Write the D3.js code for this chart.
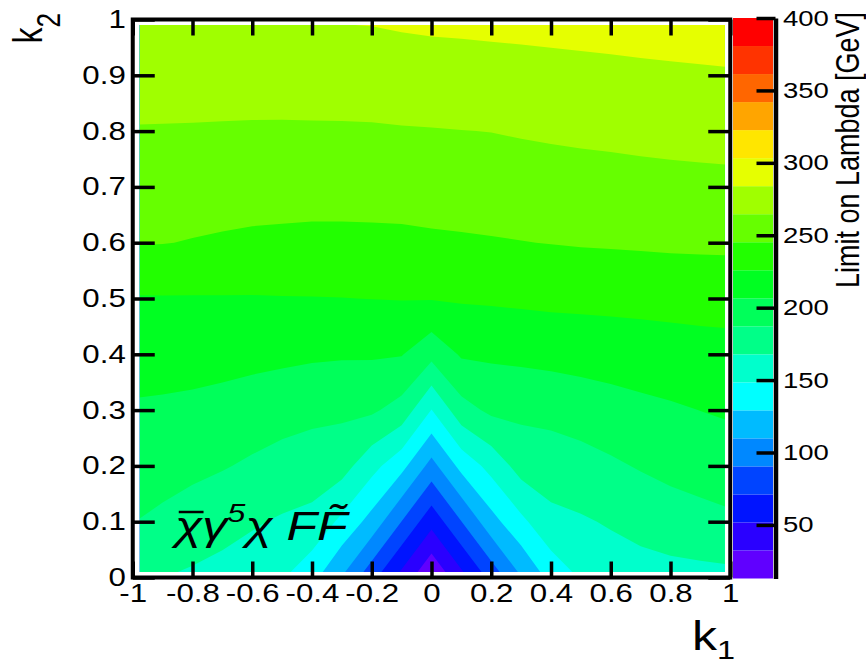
<!DOCTYPE html>
<html>
<head>
<meta charset="utf-8">
<script src="https://cdn.jsdelivr.net/npm/d3@7"></script>
<style>
  body { margin: 0; background: #fff; }
  svg { display: block; }
  text { font-family: "Liberation Sans", Arial, sans-serif; fill: #000; }
</style>
</head>
<body>
<div id="chart-area"></div>
<script>
// grid of the limit histogram: columns are k1, rows are k2
const k1Grid = [-1, -0.9, -0.8, -0.7, -0.6, -0.5, -0.4, -0.3, -0.2, -0.1, 0, 0.1, 0.2, 0.3, 0.4, 0.5, 0.6, 0.7, 0.8, 0.9, 1];
const k2Grid = [0, 0.1, 0.2, 0.3, 0.4, 0.5, 0.6, 0.7, 0.8, 0.9, 1];

// limit on Lambda [GeV], one array per k2 row
const limitK2_00 = [171, 168, 165, 162, 159, 150, 135, 109, 77, 45, 13, 45, 77, 109, 135, 150, 158, 160, 161, 162, 163];
const limitK2_01 = [187.5, 183.4, 178.4, 173.9, 169.5, 165.8, 162.9, 144, 122, 90, 58, 90, 122, 144, 162.9, 165.8, 169.5, 173.9, 178.4, 181.4, 184.1];
const limitK2_02 = [196, 194.3, 191.6, 188.5, 184.3, 179.9, 176.9, 175.4, 155, 135, 103, 135, 155, 175.4, 176.9, 179.9, 184.3, 188.6, 192.2, 194.6, 197];
const limitK2_03 = [204.4, 203.6, 202.4, 200.5, 198, 195.1, 192.4, 190.8, 190, 180, 148, 180, 191, 191.3, 193.1, 196.1, 199.2, 202, 204.3, 206.7, 208.9];
const limitK2_04 = [214.3, 213.9, 213.5, 212.6, 211.4, 210.4, 209.1, 208.4, 208.4, 207.5, 193, 208.6, 209.6, 211, 212.4, 213.6, 214.8, 216.2, 217.4, 218.7, 219.6];
const limitK2_05 = [224.6, 224.7, 224.7, 224.8, 224.8, 225.1, 225.3, 225.6, 226.1, 226.5, 226.8, 227.6, 228.4, 229.3, 230.3, 230.7, 231.1, 231.6, 232.2, 232.8, 233.1];
const limitK2_06 = [246.3, 245.7, 244.4, 243.1, 241.9, 241.3, 240.8, 240.8, 241.2, 241.5, 242.3, 243.1, 243.9, 244.8, 245.6, 246.5, 247, 247.6, 248.2, 248.5, 248.8];
const limitK2_07 = [254.9, 254.5, 254.1, 253.6, 253.1, 252.8, 252.4, 252.4, 252.3, 252.5, 253.6, 254.1, 254.6, 255.4, 256.3, 257.1, 257.8, 258.6, 259.3, 259.8, 260.2];
const limitK2_08 = [263.6, 263.4, 263.2, 262.9, 262.7, 262.5, 262.5, 262.6, 262.8, 263.4, 263.8, 264.3, 264.8, 266, 267, 267.9, 268.6, 269.4, 270.1, 270.7, 271.3];
const limitK2_09 = [271.9, 272.1, 272.1, 272.2, 272.1, 272.6, 273.2, 273.5, 273.9, 274.8, 275.7, 276.3, 276.9, 277.6, 278.3, 278.9, 279.5, 280.2, 280.8, 281.4, 282];
const limitK2_10 = [280.1, 280.7, 281.1, 281.4, 281.3, 282.7, 284.2, 284.8, 285.3, 286.6, 287.5, 287.9, 288.5, 289, 289.6, 290.4, 291.2, 292.1, 293.1, 294.1, 295.2];
const limitRows = [limitK2_00, limitK2_01, limitK2_02, limitK2_03, limitK2_04, limitK2_05,
  limitK2_06, limitK2_07, limitK2_08, limitK2_09, limitK2_10];

// colour palette, from lowest contour to highest
const paletteColors = ["#6000ff", "#2a00ff", "#0014ff", "#0044ff", "#0088ff", "#00bbff", "#00ffff",
  "#00ffcc", "#00ff88", "#00ff5a", "#00ff22", "#22ff00", "#66ff00", "#a0ff00", "#e6ff00",
  "#ffe600", "#ffa500", "#ff6600", "#ff3300", "#ff0000"];
const zMin = 13;
const zMax = 400;

const xTicks = [-1, -0.8, -0.6, -0.4, -0.2, 0, 0.2, 0.4, 0.6, 0.8, 1];
const yTicks = [0, 0.1, 0.2, 0.3, 0.4, 0.5, 0.6, 0.7, 0.8, 0.9, 1];
const zTicks = [50, 100, 150, 200, 250, 300, 350, 400];

const chartSize = { width: 866, height: 661 };
const stretch = 1.25; // text in the picture is wider than it is tall

const x = d3.scaleLinear().domain([-1, 1]).range([132.75, 730.25]);
const y = d3.scaleLinear().domain([0, 1]).range([577.5, 19.5]);
const z = d3.scaleLinear().domain([zMin, zMax]).range([578.5, 18]);

const levels = d3.range(paletteColors.length).map(i => zMin + i * (zMax - zMin) / paletteColors.length);

const svg = d3.select("#chart-area").append("svg")
  .attr("width", chartSize.width)
  .attr("height", chartSize.height);

svg.append("rect").attr("width", chartSize.width).attr("height", chartSize.height).attr("fill", "#fff");

// filled contours
const nx = k1Grid.length, ny = k2Grid.length;
const values = [];
limitRows.forEach(row => row.forEach(v => values.push(v)));

const gx = d3.scaleLinear().domain([0.5, nx - 0.5]).range([x(k1Grid[0]), x(k1Grid[nx - 1])]);
const gy = d3.scaleLinear().domain([0.5, ny - 0.5]).range([y(k2Grid[0]), y(k2Grid[ny - 1])]);
const gridPath = d3.geoPath(d3.geoTransform({
  point: function(px, py) { this.stream.point(gx(px), gy(py)); }
}));

svg.append("clipPath").attr("id", "fill-clip")
  .append("rect")
  .attr("x", x(-0.976)).attr("y", y(0.99))
  .attr("width", x(0.982) - x(-0.976))
  .attr("height", y(0.0099) - y(0.99));

const contours = d3.contours().size([nx, ny]).thresholds(levels)(values);

svg.append("g")
  .attr("class", "contours")
  .attr("clip-path", "url(#fill-clip)")
  .selectAll("path")
  .data(contours)
  .join("path")
  .attr("d", gridPath)
  .attr("fill", (d, i) => paletteColors[i]);

// axes, ticks pointing inwards
const styleAxis = (g, size) => {
  g.attr("font-size", size).attr("font-family", null);
  g.select(".domain").remove();
  g.selectAll("line").attr("stroke", "#000").attr("stroke-width", 3.5);
  g.selectAll("text").attr("transform", `scale(${stretch},1)`);
};

const fmt = d => String(d);

svg.append("g")
  .attr("transform", `translate(0,${y(0)})`)
  .call(d3.axisBottom(x).tickValues(xTicks).tickSizeInner(-16).tickSizeOuter(0).tickPadding(7).tickFormat(fmt))
  .call(g => styleAxis(g, 25));

svg.append("g")
  .attr("transform", `translate(0,${y(1)})`)
  .call(d3.axisTop(x).tickValues(xTicks).tickSizeInner(-16).tickSizeOuter(0).tickFormat(""))
  .call(g => styleAxis(g, 25));

svg.append("g")
  .attr("transform", `translate(${x(-1)},0)`)
  .call(d3.axisLeft(y).tickValues(yTicks).tickSizeInner(-22).tickSizeOuter(0).tickPadding(5.6).tickFormat(fmt))
  .call(g => styleAxis(g, 25));

svg.append("g")
  .attr("transform", `translate(${x(1)},0)`)
  .call(d3.axisRight(y).tickValues(yTicks).tickSizeInner(-22).tickSizeOuter(0).tickFormat(""))
  .call(g => styleAxis(g, 25));

// frame
svg.append("rect")
  .attr("x", x(-1)).attr("y", y(1))
  .attr("width", x(1) - x(-1)).attr("height", y(0) - y(1))
  .attr("fill", "none").attr("stroke", "#000").attr("stroke-width", 4);

// palette
const paletteLeft = 733, paletteRight = 773;
svg.append("g")
  .selectAll("rect")
  .data(paletteColors)
  .join("rect")
  .attr("x", paletteLeft)
  .attr("width", paletteRight - paletteLeft)
  .attr("y", (d, i) => z(levels[i + 1] || zMax))
  .attr("height", (d, i) => z(levels[i]) - z(levels[i + 1] || zMax))
  .attr("fill", d => d);

const zAxis = svg.append("g")
  .attr("transform", `translate(${paletteRight + 2.5},0)`)
  .call(d3.axisRight(z).tickValues(zTicks).tickSizeInner(-19).tickSizeOuter(0).tickPadding(6).tickFormat(fmt));
zAxis.attr("font-size", 22).attr("font-family", null);
zAxis.select(".domain").attr("stroke", "#000").attr("stroke-width", 4.5);
zAxis.selectAll("line").attr("stroke", "#000").attr("stroke-width", 3.5);
zAxis.selectAll("text").attr("transform", `scale(${stretch},1)`);

// axis titles
const xTitle = svg.append("text")
  .attr("transform", `translate(735,650) scale(${stretch},1)`)
  .attr("text-anchor", "end")
  .attr("font-size", 40);
xTitle.append("tspan").text("k");
xTitle.append("tspan").attr("font-size", 26).attr("dy", 9).text("1");

const yTitle = svg.append("text")
  .attr("transform", `translate(42,13) rotate(-90) scale(1,${stretch})`)
  .attr("text-anchor", "end")
  .attr("font-size", 32);
yTitle.append("tspan").text("k");
yTitle.append("tspan").attr("font-size", 26).attr("dy", 14).text("2");

svg.append("text")
  .attr("transform", `translate(859,12) rotate(-90) scale(1,1.2)`)
  .attr("text-anchor", "end")
  .attr("font-size", 27)
  .text("Limit on Lambda [GeV]");

// operator label: chi-bar gamma^5 chi F F-tilde
const label = svg.append("text")
  .attr("transform", `translate(175,540) scale(${stretch},1)`)
  .attr("font-family", "'DejaVu Sans', sans-serif")
  .attr("font-style", "italic")
  .attr("font-size", 40);
const chiBar = label.append("tspan").text("\u03c7");
label.append("tspan").text("\u03b3");
label.append("tspan").attr("font-size", 26).attr("dy", -18).text("5");
label.append("tspan").attr("dy", 18).text("\u03c7 FF\u0303");

// bar over the first chi, sized from the glyph itself
const chiWidth = chiBar.node().getComputedTextLength();
svg.append("line")
  .attr("transform", `translate(175,540) scale(${stretch},1)`)
  .attr("x1", 3).attr("x2", chiWidth + 1)
  .attr("y1", -28).attr("y2", -28)
  .attr("stroke", "#000").attr("stroke-width", 2.5);
</script>
</body>
</html>
